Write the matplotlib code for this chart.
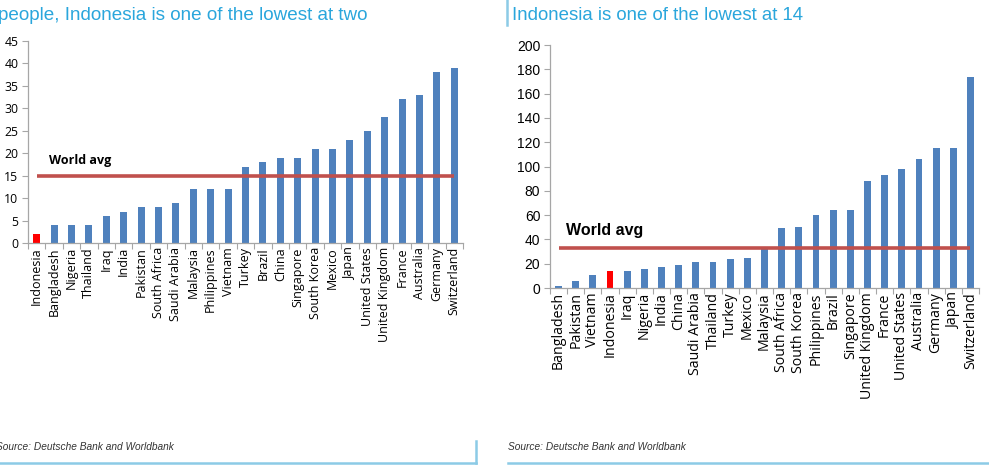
import matplotlib.pyplot as plt
from matplotlib.lines import Line2D

# left chart data
left_countries = ["Indonesia", "Bangladesh", "Nigeria", "Thailand", "Iraq", "India", "Pakistan",
                  "South Africa", "Saudi Arabia", "Malaysia", "Philippines", "Vietnam", "Turkey",
                  "Brazil", "China", "Singapore", "South Korea", "Mexico", "Japan", "United States",
                  "United Kingdom", "France", "Australia", "Germany", "Switzerland"]
left_values = [2, 4, 4, 4, 6, 7, 8, 8, 9, 12, 12, 12, 17, 18, 19, 19, 21, 21, 23, 25, 28, 32, 33, 38, 39]
left_world_avg = 15
left_title = "people, Indonesia is one of the lowest at two"

# right chart data
right_countries = ["Bangladesh", "Pakistan", "Vietnam", "Indonesia", "Iraq", "Nigeria", "India",
                   "China", "Saudi Arabia", "Thailand", "Turkey", "Mexico", "Malaysia", "South Africa",
                   "South Korea", "Philippines", "Brazil", "Singapore", "United Kingdom", "France",
                   "United States", "Australia", "Germany", "Japan", "Switzerland"]
right_values = [2, 6, 11, 14, 14, 16, 17, 19, 21, 21, 24, 25, 33, 49, 50, 60, 64, 64, 88, 93, 98,
                106, 115, 115, 174]
right_world_avg = 33
right_title = "Indonesia is one of the lowest at 14"

source = "Source: Deutsche Bank and Worldbank"

BAR = "#4F81BD"
HILITE = "#FF0000"
AVG = "#C0504D"
TITLE_C = "#2AA6DC"
FRAME = "#8CCBE6"
AXC = "#A6A6A6"

W, H = 989, 474
fig = plt.figure(figsize=(W / 100, H / 100), dpi=100)


def px(x0, y0, x1, y1):
    # pixel box -> figure fraction [left, bottom, width, height]
    return [x0 / W, 1 - y1 / H, (x1 - x0) / W, (y1 - y0) / H]


def draw_panel(ax, countries, values, avg, ymax, ystep, label_size,
               tick_font, tick_size, avg_font, avg_text_pos, avg_text_size):
    xs = list(range(len(countries)))
    colors = [HILITE if c == "Indonesia" else BAR for c in countries]
    ax.bar(xs, values, width=0.4, color=colors, zorder=2)
    ax.plot([xs[0], xs[-1]], [avg, avg], color=AVG, lw=2.6, zorder=3, solid_capstyle="butt")
    ax.text(avg_text_pos[0], avg_text_pos[1], "World avg", fontsize=avg_text_size,
            fontweight="bold", family=avg_font, color="black", va="center", ha="left")
    ax.set_xlim(-0.5, len(countries) - 0.5)
    ax.set_ylim(0, ymax)
    ax.set_yticks(range(0, ymax + 1, ystep))
    for s in ["top", "right"]:
        ax.spines[s].set_visible(False)
    for s in ["left", "bottom"]:
        ax.spines[s].set_color(AXC)
        ax.spines[s].set_linewidth(0.9)
    ax.set_xticks([x + 0.5 for x in [-1] + xs])
    ax.set_xticklabels([])
    ax.set_xticks(xs, minor=True)
    ax.set_xticklabels(countries, minor=True, rotation=90, family="Open Sans", fontsize=label_size)
    ax.tick_params(axis="x", which="major", length=4, color=AXC, direction="out")
    ax.tick_params(axis="x", which="minor", length=0, pad=3)
    ax.tick_params(axis="y", length=4, color=AXC, labelsize=tick_size, pad=3)
    for t in ax.get_yticklabels():
        t.set_family(tick_font)
    ax.set_facecolor("none")


axl = fig.add_axes(px(28, 41, 463, 243))
draw_panel(axl, left_countries, left_values, left_world_avg, 45, 5,
           9.0, "Open Sans", 8.8, "Open Sans", (0.7, 18.4), 9)

axr = fig.add_axes(px(550, 45, 979, 288))
draw_panel(axr, right_countries, right_values, right_world_avg, 200, 20,
           10.2, "Liberation Sans", 10, "Liberation Sans", (0.45, 47.5), 11.5)

# titles
fig.text(-2 / W, 1 - 15 / H, left_title, color=TITLE_C, fontsize=13.6, va="center", ha="left",
         family="Liberation Sans")
fig.text(512 / W, 1 - 15 / H, right_title, color=TITLE_C, fontsize=13.4, va="center", ha="left",
         family="Liberation Sans")

# sources
fig.text(-4 / W, 1 - 447 / H, source, fontsize=7.3, style="italic", color="#333333",
         va="center", ha="left", family="Liberation Sans")
fig.text(508 / W, 1 - 447 / H, source, fontsize=7.3, style="italic", color="#333333",
         va="center", ha="left", family="Liberation Sans")

# report frame lines
frame = [((0, 476), (462.5, 462.5)), ((476, 476), (441, 462.5)),
         ((508, 989), (463, 463)), ((507, 507), (0, 25))]
for xx, yy in frame:
    fig.add_artist(Line2D([x / W for x in xx], [1 - y / H for y in yy], color=FRAME, lw=1.8,
                          transform=fig.transFigure))

fig.savefig("out.png", dpi=100)
